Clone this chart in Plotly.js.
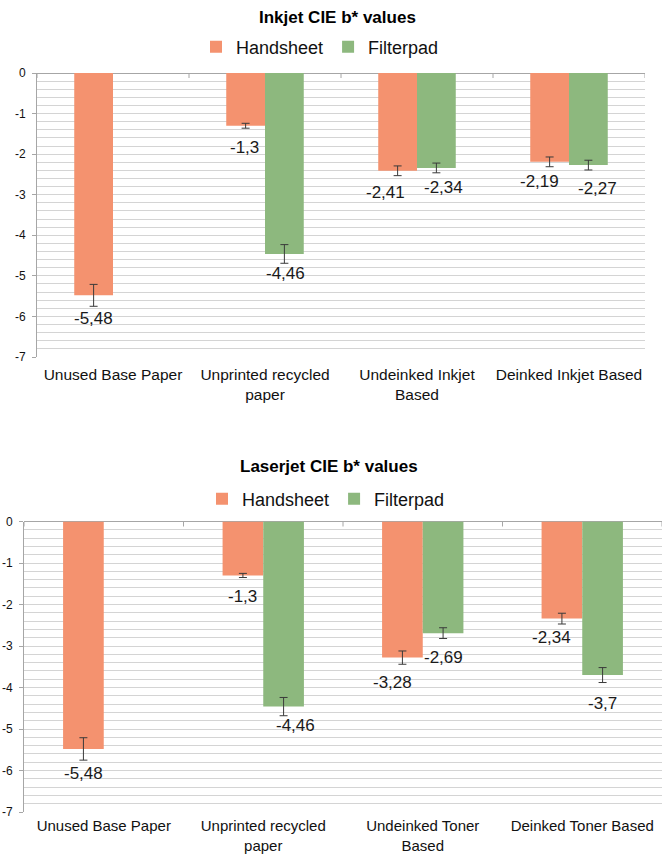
<!DOCTYPE html>
<html>
<head>
<meta charset="utf-8">
<script src="https://cdn.plot.ly/plotly-3.0.1.min.js"></script>
<style>
  html, body { margin: 0; padding: 0; background: #fff; }
  #chart { width: 662px; height: 854px; }
</style>
</head>
<body>
<div id="chart"></div>
<script>
// ---- data ----
const inkjetCategories = ["Unused Base Paper", "Unprinted recycled<br>paper", "Undeinked Inkjet<br>Based", "Deinked Inkjet Based"];
const laserCategories = ["Unused Base Paper", "Unprinted recycled<br>paper", "Undeinked Toner<br>Based", "Deinked Toner Based"];
const seriesNames = ["Handsheet", "Filterpad"];

const inkjetHandsheet = [-5.48, -1.3, -2.41, -2.19];
const inkjetFilterpad = [null, -4.46, -2.34, -2.27];
const inkjetHandsheetErr = [0.27, 0.06, 0.12, 0.12];
const inkjetFilterpadErr = [null, 0.23, 0.12, 0.12];

const laserHandsheet = [-5.48, -1.3, -3.28, -2.34];
const laserFilterpad = [null, -4.46, -2.69, -3.7];
const laserHandsheetErr = [0.27, 0.05, 0.16, 0.13];
const laserFilterpadErr = [null, 0.22, 0.13, 0.18];

const yTickVals = [0, -1, -2, -3, -4, -5, -6, -7];

// ---- label nudges (pixels: [dx, dy below error bar end]) ----
const inkjetHNudge = [[0, 12], [-1, 19], [-12, 17], [-10, 15]];
const inkjetFNudge = [null, [1, 10], [7, 15], [9, 19]];
const laserHNudge = [[0, 13], [0, 19], [-10, 18], [-10, 13]];
const laserFNudge = [null, [12, 10], [0, 19], [0, 21]];

// ---- style ----
const orange = "#F4926F";
const green = "#8DB87E";
const gridColor = "#D4D4D4";
const axisColor = "#A6A6A6";
const font = "Liberation Sans, Arial, sans-serif";
const bargap = 0.49;

function barTrace(cats, vals, errs, name, color, xa, ya, legend, show) {
  return {
    type: "bar", x: cats, y: vals, name: name,
    marker: { color: color, line: { width: 0 } },
    error_y: { type: "data", array: errs, visible: true, color: "#3a3a3a", thickness: 1, width: 4 },
    xaxis: xa, yaxis: ya, legend: legend, showlegend: show, hoverinfo: "y"
  };
}

const traces = [
  barTrace(inkjetCategories, inkjetHandsheet, inkjetHandsheetErr, seriesNames[0], orange, "x", "y", "legend", true),
  barTrace(inkjetCategories, inkjetFilterpad, inkjetFilterpadErr, seriesNames[1], green, "x", "y", "legend", true),
  barTrace(laserCategories, laserHandsheet, laserHandsheetErr, seriesNames[0], orange, "x2", "y2", "legend2", true),
  barTrace(laserCategories, laserFilterpad, laserFilterpadErr, seriesNames[1], green, "x2", "y2", "legend2", true)
];

const fmt = v => String(v).replace(".", ",");
const off = (1 - bargap) / 4;
const annotations = [];

function addLabels(vals, errs, nudges, sign, xref, yref) {
  vals.forEach((v, i) => {
    if (v === null) return;
    const n = nudges[i] || [0, 14];
    annotations.push({
      x: i + sign * off, y: v - (errs[i] || 0), xref: xref, yref: yref,
      text: fmt(v), showarrow: false, xanchor: "center", yanchor: "middle",
      xshift: n[0], yshift: -n[1],
      font: { family: font, size: 17, color: "#1a1a1a" }
    });
  });
}
addLabels(inkjetHandsheet, inkjetHandsheetErr, inkjetHNudge, -1, "x", "y");
addLabels(inkjetFilterpad, inkjetFilterpadErr, inkjetFNudge, 1, "x", "y");
addLabels(laserHandsheet, laserHandsheetErr, laserHNudge, -1, "x2", "y2");
addLabels(laserFilterpad, laserFilterpadErr, laserFNudge, 1, "x2", "y2");

annotations.push({
  text: "<b>Inkjet CIE b* values</b>", xref: "paper", yref: "paper",
  x: 337 / 662, y: 1 - 17 / 854, xanchor: "center", yanchor: "middle", showarrow: false,
  font: { family: font, size: 17, color: "#000" }
});
annotations.push({
  text: "<b>Laserjet CIE b* values</b>", xref: "paper", yref: "paper",
  x: 329 / 662, y: 1 - 466 / 854, xanchor: "center", yanchor: "middle", showarrow: false,
  font: { family: font, size: 17, color: "#000" }
});

// tick marks on the zero line at category boundaries
const shapes = [];
[["x", "y"], ["x2", "y2"]].forEach(([xr, yr]) => {
  [-0.5, 0.5, 1.5, 2.5, 3.5].forEach(b => {
    shapes.push({
      type: "line", xref: xr, yref: yr, x0: b, x1: b,
      ysizemode: "pixel", yanchor: 0, y0: 0, y1: -5,
      line: { color: axisColor, width: 1 }, layer: "above"
    });
  });
});

function yAxis(domain) {
  return {
    domain: domain, range: [-7, 0], tickvals: yTickVals, ticktext: yTickVals.map(String),
    showgrid: true, gridcolor: gridColor, gridwidth: 1,
    minor: { dtick: 0.2, showgrid: true, gridcolor: gridColor, gridwidth: 1 },
    zeroline: true, zerolinecolor: axisColor, zerolinewidth: 1,
    showline: true, linecolor: axisColor, linewidth: 1,
    ticks: "outside", ticklen: 4, tickcolor: axisColor,
    ticklabelstandoff: 4,
    tickfont: { family: font, size: 12, color: "#111" },
    fixedrange: true, automargin: false
  };
}
function xAxis(domain, anchor, range, standoff, size) {
  return {
    domain: domain, anchor: anchor, type: "category", range: range,
    showgrid: false, zeroline: false, showline: false, ticks: "",
    ticklabelstandoff: standoff,
    tickfont: { family: font, size: size, color: "#111" },
    fixedrange: true, automargin: false
  };
}

const layout = {
  width: 662, height: 854,
  margin: { l: 0, r: 0, t: 0, b: 0 },
  paper_bgcolor: "#fff", plot_bgcolor: "#fff",
  barmode: "group", bargap: bargap, bargroupgap: 0,
  showlegend: true,
  xaxis: xAxis([37 / 662, 645 / 662], "y", [-0.5, 3.5], 6, 15.5),
  yaxis: yAxis([1 - 357 / 854, 1 - 73 / 854]),
  xaxis2: xAxis([24 / 662, 1], "y2", [-0.5, 3.5], 3, 15),
  yaxis2: Object.assign(yAxis([1 - 812 / 854, 1 - 521.5 / 854]), { anchor: "x2" }),
  legend: {
    orientation: "h", x: 320 / 662, xanchor: "center", y: 1 - 47 / 854, yanchor: "middle",
    font: { family: font, size: 18, color: "#111" }, itemwidth: 30, bgcolor: "rgba(0,0,0,0)",
    traceorder: "normal"
  },
  legend2: {
    orientation: "h", x: 326 / 662, xanchor: "center", y: 1 - 499 / 854, yanchor: "middle",
    font: { family: font, size: 18, color: "#111" }, itemwidth: 30, bgcolor: "rgba(0,0,0,0)",
    traceorder: "normal"
  },
  annotations: annotations,
  shapes: shapes
};

Plotly.newPlot("chart", traces, layout, { displayModeBar: false, staticPlot: true });
</script>
</body>
</html>
